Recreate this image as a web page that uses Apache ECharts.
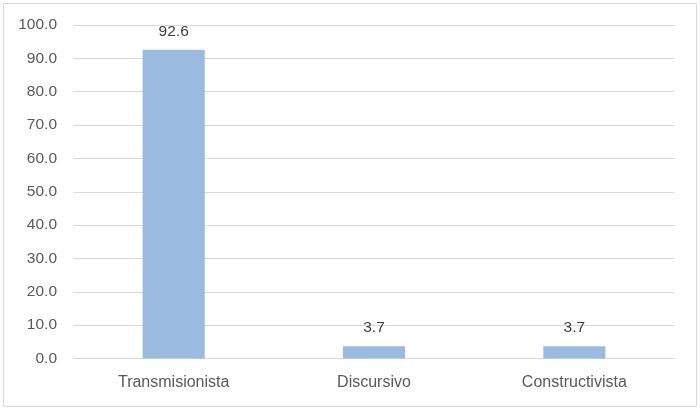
<!DOCTYPE html>
<html>
<head>
    <meta charset="utf-8">
    <title>Chart</title>
    <style>
        html, body { margin: 0; padding: 0; background: #fff; }
        #chart { width: 700px; height: 411px; }
    </style>
</head>
<body>
<div id="chart"></div>
<script src="https://cdn.jsdelivr.net/npm/echarts@6/dist/echarts.min.js"></script>
<script>
    // categorias y valores
    var categorias = ['Transmisionista', 'Discursivo', 'Constructivista'];
    var valores = [92.6, 3.7, 3.7];
    var yMin = 0;
    var yMax = 100;
    var yPaso = 10;

    var myChart = echarts.init(document.getElementById('chart'));
    var fuente = 'Liberation Sans';
    var option = {
        animation: false,
        textStyle: { fontFamily: fuente },
        graphic: [
            {
                type: 'rect',
                shape: { x: 3.5, y: 3.5, width: 693, height: 403 },
                style: { fill: 'none', stroke: '#d9d9d9', lineWidth: 1 }
            }
        ],
        grid: {
            left: 73.5,
            right: 25.5,
            top: 25,
            bottom: 52.5
        },
        xAxis: {
            type: 'category',
            data: categorias,
            axisLine: { show: true, lineStyle: { color: '#d9d9d9', width: 1 } },
            axisTick: { show: false },
            axisLabel: {
                color: '#595959',
                fontSize: 16,
                margin: 16,
                fontFamily: fuente
            }
        },
        yAxis: {
            type: 'value',
            min: yMin,
            max: yMax,
            interval: yPaso,
            axisLine: { show: false },
            axisTick: { show: false },
            splitLine: { lineStyle: { color: '#d9d9d9', width: 1 } },
            axisLabel: {
                color: '#595959',
                fontSize: 15.5,
                margin: 16.5,
                fontFamily: fuente,
                formatter: function (v) { return v.toFixed(1); }
            }
        },
        series: [
            {
                type: 'bar',
                data: valores,
                barWidth: '31%',
                itemStyle: { color: '#9bbae0' },
                label: {
                    show: true,
                    position: 'top',
                    distance: 10,
                    color: '#404040',
                    fontSize: 15.5,
                    fontFamily: fuente,
                    formatter: function (p) { return p.value.toFixed(1); }
                }
            }
        ]
    };
    myChart.setOption(option);
</script>
</body>
</html>
